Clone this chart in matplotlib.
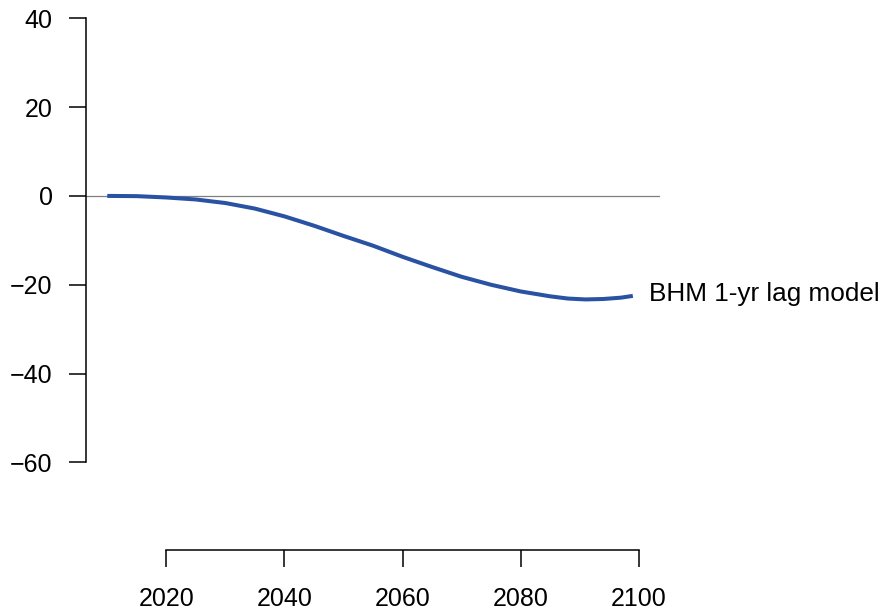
import matplotlib
matplotlib.use("Agg")
import matplotlib.pyplot as plt

plt.rcParams['font.family'] = ['Liberation Sans', 'DejaVu Sans']

years = [2010, 2015, 2020, 2025, 2030, 2035, 2040, 2045, 2050, 2055,
         2060, 2065, 2070, 2075, 2080, 2085, 2088, 2091, 2094, 2097, 2099]
impact = [0.0, -0.05, -0.35, -0.8, -1.6, -2.85, -4.6, -6.7, -9.0, -11.2,
          -13.7, -16.0, -18.2, -20.0, -21.5, -22.6, -23.1, -23.3, -23.2,
          -22.9, -22.5]
series_label = "BHM 1-yr lag model"
xticks = [2020, 2040, 2060, 2080, 2100]
yticks = [-60, -40, -20, 0, 20, 40]

fig = plt.figure(figsize=(8.86, 6.11), dpi=100)
ax = fig.add_axes([86/886, 61/611, (660-86)/886, 550/611])

ax.axhline(0, color="#7f7f7f", lw=0.9, zorder=1)
ax.plot(years, impact, color="#2a52a3", lw=2.9, solid_capstyle="butt",
        solid_joinstyle="round", zorder=2)
ax.annotate(series_label, xy=(years[-1], impact[-1]), xytext=(11.5, -3.8),
            textcoords="offset points", fontsize=18.8,
            va="baseline", ha="left", annotation_clip=False)

ax.set_xlim(2006.4, 2103.6)
ax.set_ylim(-79.7, 44.1)

for s in ("top", "right"):
    ax.spines[s].set_visible(False)
ax.spines["left"].set_bounds(-60, 40)
ax.spines["bottom"].set_bounds(2020, 2100)
for s in ("left", "bottom"):
    ax.spines[s].set_linewidth(1.1)

ax.set_xticks(xticks)
ax.set_yticks(yticks)
ax.set_yticklabels(["\u221260", "\u221240", "\u221220", "0", "20", "40"])
ax.tick_params(axis="both", length=12, width=1.1, labelsize=18, direction="out")
ax.tick_params(axis="y", pad=12)
ax.tick_params(axis="x", pad=14.5)

fig.savefig("out.png", dpi=100)
